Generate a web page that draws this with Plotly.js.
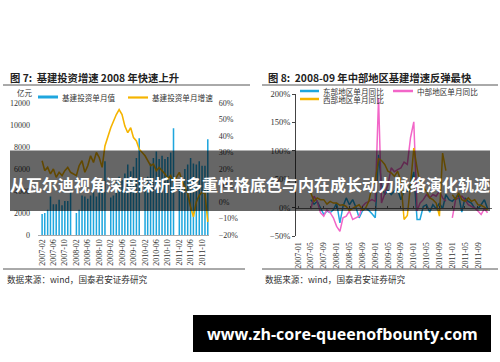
<!DOCTYPE html>
<html><head><meta charset="utf-8">
<script src="https://cdn.plot.ly/plotly-3.0.1.min.js"></script>
<style>html,body{margin:0;padding:0;background:#fff;}#chart{width:500px;height:362px;}</style>
</head><body><div id="chart"></div>
<script>
// ---------- Figure 7 data ----------
const leftMonths = [
 '2007-02','2007-03','2007-04','2007-05','2007-06','2007-07','2007-08','2007-09','2007-10','2007-11','2007-12',
 '2008-02','2008-03','2008-04','2008-05','2008-06','2008-07','2008-08','2008-09','2008-10','2008-11','2008-12',
 '2009-02','2009-03','2009-04','2009-05','2009-06','2009-07','2009-08','2009-09','2009-10','2009-11','2009-12',
 '2010-02','2010-03','2010-04','2010-05','2010-06','2010-07','2010-08','2010-09','2010-10','2010-11','2010-12',
 '2011-02','2011-03','2011-04','2011-05','2011-06','2011-07','2011-08','2011-09','2011-10','2011-11','2011-12'];
const investValues = [
 1900,2000,2300,3500,2800,2800,3200,2700,3100,3100,3900,
 2000,2300,3600,3500,3300,3600,4600,3500,4200,4500,6700,
 3400,3600,4800,5300,5000,5600,6400,5800,6200,7000,8800,
 4500,5300,6500,7000,7600,6900,7200,6900,7100,7500,9700,
 4700,5300,6000,6400,7000,6500,6400,6700,6300,6300,8700];
const investGrowth = [
 25,19,21,17,20,15,18,16,19,21,18,
 16,22,25,18,22,28,24,30,27,21,34,
 45,49,53,56,53,46,42,45,39,37,32,
 28,25,22,23,19,21,19,17,14,16,12,
 18,13,9,5,-3,-9,0,4,6,5,-12];
const leftTicks = ['2007-02','2007-06','2007-10','2008-02','2008-06','2008-10','2009-02','2009-06','2009-10',
 '2010-02','2010-06','2010-10','2011-02','2011-06','2011-10'];

// ---------- Figure 8 data ----------
const rightMonths = [
 '2007-05','2007-06','2007-07','2007-08','2007-09','2007-10','2007-11','2007-12',
 '2008-01','2008-02','2008-03','2008-04','2008-05','2008-06','2008-07','2008-08','2008-09','2008-10','2008-11','2008-12',
 '2009-01','2009-02','2009-03','2009-04','2009-05','2009-06','2009-07','2009-08','2009-09','2009-10','2009-11','2009-12',
 '2010-01','2010-02','2010-03','2010-04','2010-05','2010-06','2010-07','2010-08','2010-09','2010-10','2010-11','2010-12',
 '2011-01','2011-02','2011-03','2011-04','2011-05','2011-06','2011-07','2011-08','2011-09','2011-10','2011-11','2011-12'];
const eastYoY = [
 14,6,11,-2,-12,-6,-9,-4,
 8,-27,2,17,5,14,1,-18,-6,-1,-5,-11,
 -18,93,40,23,30,23,29,32,14,29,29,40,
 63,-21,-21,2,5,-8,5,-2,8,-2,23,14,
 11,17,23,-8,17,11,8,-1,-2,5,14,-2];
const centralYoY = [
 -3,20,11,-9,-15,-4,-9,-18,
 -33,-42,-18,-15,-6,-21,-18,-15,2,8,11,14,
 11,193,8,23,40,70,63,67,70,80,76,123,
 151,-6,8,14,23,17,23,20,29,17,11,null,
 -18,14,17,20,14,5,2,-1,-6,-12,-2,-9];
const westYoY = [
 26,11,17,14,14,6,11,8,
 8,4,5,2,-5,-1,2,5,-4,-1,11,38,
 46,86,83,76,64,61,55,64,46,-21,-14,40,
 105,70,43,35,29,17,14,8,-15,96,65,null,
 23,14,26,14,11,17,11,14,5,4,1,-4];
const rightTicks = ['2007-01','2007-05','2007-09','2008-01','2008-05','2008-09','2009-01','2009-05','2009-09',
 '2010-01','2010-05','2010-09','2011-01','2011-05','2011-09'];

const BLUE = '#1fa6de', GOLD = '#f5b400', PINK = '#f266c8';
const W = 500, H = 362;
const fx = v => v / W, fy = v => 1 - v / H;
const serif = 'Liberation Serif, Times New Roman, serif';
const cjk = 'Noto Sans CJK SC, Noto Sans, sans-serif';

const traces = [
  {type:'bar', x:leftMonths, y:investValues, xaxis:'x', yaxis:'y', marker:{color:BLUE}, name:'基建投资单月值', showlegend:false},
  {type:'scatter', mode:'lines', x:leftMonths, y:investGrowth, xaxis:'x', yaxis:'y2', line:{color:GOLD, width:1.6}, name:'基建投资单月增速', showlegend:false},
  {type:'scatter', mode:'lines', x:rightMonths, y:eastYoY, xaxis:'x2', yaxis:'y3', line:{color:BLUE, width:1.5}, name:'东部地区单月同比', showlegend:false},
  {type:'scatter', mode:'lines', x:rightMonths, y:centralYoY, xaxis:'x2', yaxis:'y3', line:{color:PINK, width:1.5}, name:'中部地区单月同比', showlegend:false},
  {type:'scatter', mode:'lines', x:rightMonths, y:westYoY, xaxis:'x2', yaxis:'y3', line:{color:GOLD, width:1.5}, name:'西部地区单月同比', showlegend:false}
];

const tickFont = {family:serif, size:8, color:'#333'};
function line(x0,y0,x1,y1,color,width){return {type:'line',xref:'paper',yref:'paper',x0:fx(x0),y0:fy(y0),x1:fx(x1),y1:fy(y1),line:{color:color,width:width}};}
function rect(x0,y0,x1,y1,fill,layer){return {type:'rect',xref:'paper',yref:'paper',x0:fx(x0),y0:fy(y0),x1:fx(x1),y1:fy(y1),fillcolor:fill,line:{width:0},layer:layer||'above'};}
function ann(text,x,y,size,opts){return Object.assign({text:text,xref:'paper',yref:'paper',x:fx(x),y:fy(y),xanchor:'left',yanchor:'middle',showarrow:false,font:{family:cjk,size:size,color:'#333'}},opts||{});}

const layout = {
  width:W, height:H, margin:{l:0,r:0,t:0,b:0}, paper_bgcolor:'#fff', plot_bgcolor:'rgba(0,0,0,0)',
  showlegend:false, bargap:0.42,
  xaxis:{type:'date', domain:[fx(37.7), fx(209.1)], range:['2006-12-16','2011-12-15'], anchor:'y',
    tickvals:leftTicks, ticktext:leftTicks, tickangle:-90, tickfont:tickFont, showline:true, linecolor:'#aaa',
    ticks:'', showgrid:false, zeroline:false},
  yaxis:{domain:[fy(235), fy(103)], range:[0,12000], dtick:2000, tickformat:'d', tickfont:tickFont, anchor:'x',
    showgrid:false, zeroline:false, showline:false, ticks:'outside', ticklen:5, tickcolor:'rgba(0,0,0,0)'},
  yaxis2:{overlaying:'y', side:'right', anchor:'x', range:[-20,60], dtick:10, ticksuffix:'%', tickfont:tickFont,
    showgrid:false, zeroline:false, showline:false, ticks:'outside', ticklen:7, tickcolor:'rgba(0,0,0,0)'},
  xaxis2:{type:'date', domain:[fx(296), fx(492)], range:['2006-12-12','2012-01-12'], anchor:'free', position:fy(208),
    tickvals:rightTicks, ticktext:rightTicks, tickangle:-90, tickfont:tickFont, showline:true, linecolor:'#666',
    ticks:'inside', ticklen:2, tickcolor:'#666', ticklabelstandoff:30, showgrid:false, zeroline:false},
  yaxis3:{domain:[fy(236), fy(94)], range:[-50,200], dtick:50, ticksuffix:'%', anchor:'x2',
    tickfont:{family:serif, size:8.5, color:'#333'}, showgrid:false, zeroline:false, showline:true, linecolor:'#444',
    ticks:'outside', ticklen:3, tickcolor:'#444'},
  shapes:[
    line(3,85,250,85,'#555',1), line(262,85,498,85,'#555',1),
    line(3,269,245,269,'#555',1), line(262,269,498,269,'#555',1),
    rect(38,95.5,58,98.5,BLUE),
    line(128,97.5,148,97.5,GOLD,2.2),
    line(300,91,319,91,BLUE,2.5), line(393,91,413,91,PINK,2.5), line(300,99,319,99,GOLD,2.5),
    rect(10,150.5,490,211,'rgba(0,0,0,0.6)'),
    rect(193,315,491,352,'#000')
  ],
  annotations:[
    ann('<b>图 7:  基建投资增速 2008 年快速上升</b>',8,77,10.3,{font:{family:cjk,size:10.3,color:'#222'}}),
    ann('<b>图 8:  2008-09 年中部地区基建增速反弹最快</b>',266,77,10.3,{font:{family:cjk,size:10.3,color:'#222'}}),
    ann('亿元',15,92,7.5),
    ann('基建投资单月值',60,97.5,7.6),
    ann('基建投资单月增速',150,97.5,7.6),
    ann('东部地区单月同比',321,91,7.6),
    ann('中部地区单月同比',415,91,7.6),
    ann('西部地区单月同比',321,99.5,7.6),
    ann('数据来源：wind，国泰君安证券研究',5,279,8.6),
    ann('数据来源：wind，国泰君安证券研究',263,279,8.6),
    ann('<b>从瓦尔迪视角深度探析其多重性格底色与内在成长动力脉络演化轨迹</b>',250,184,16,
      {xanchor:'center', font:{family:cjk,size:16,color:'#fff'}}),
    ann('<b>www.zh-core-queenofbounty.com</b>',342,334,16,
      {xanchor:'center', font:{family:'Open Sans, DejaVu Sans, sans-serif',size:16,color:'#fff'}})
  ]
};
Plotly.newPlot('chart', traces, layout, {staticPlot:true, displayModeBar:false});
</script>
</body></html>
